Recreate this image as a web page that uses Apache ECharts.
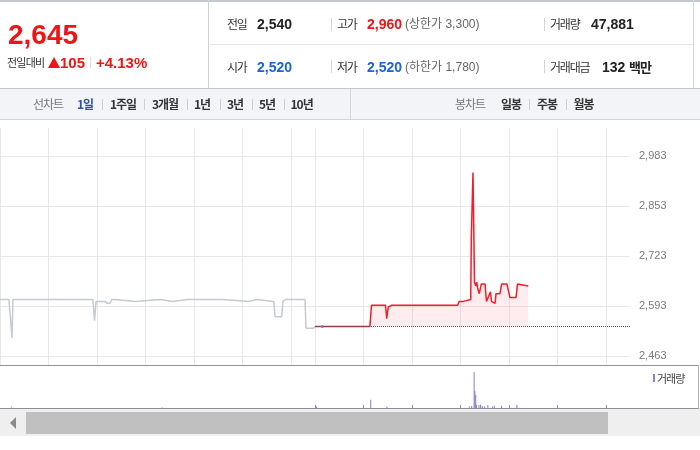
<!DOCTYPE html>
<html><head><meta charset="utf-8">
<script src="https://cdn.jsdelivr.net/npm/echarts@6/dist/echarts.min.js"></script>
<style>
html,body{margin:0;padding:0}
body{width:700px;height:450px;overflow:hidden;background:#fff;position:relative;font-family:"Liberation Sans","Noto Sans CJK KR",sans-serif}
#chart{position:absolute;left:0;top:0;width:700px;height:450px;z-index:2}
.a{position:absolute;white-space:nowrap;line-height:20px;z-index:3}
.box{position:absolute;z-index:1}
.lbl{font-family:"Noto Sans CJK KR",sans-serif;font-size:12px;letter-spacing:-1.2px;color:#333}
.val{font-size:14px;font-weight:bold;color:#222}
.sub{font-family:"Liberation Sans","Noto Sans CJK KR",sans-serif;font-size:12px;color:#666}
.sep{position:absolute;width:1px;background:#d6d6d6;z-index:3}
.tab{font-family:"Noto Sans CJK KR",sans-serif;font-size:12px;letter-spacing:-1px;color:#333;font-weight:bold}
.tabh{font-family:"Noto Sans CJK KR",sans-serif;font-size:12px;letter-spacing:-1px;color:#777}
</style>
</head><body>
<div id="header"></div>
<div id="chart"></div>
<script>
// ---------- data ----------
const currentPrice = 2645;
const prevClose = 2540;
const changeAmt = 105;
const changePct = 4.13;
const openPrice = 2520;
const highPrice = 2960;
const lowPrice = 2520;
const upperLimit = 3300;
const lowerLimit = 1780;
const totalVolume = 47881;
const tradeAmount = 132;

// minutes from previous day 09:00 (0) ; today 09:00 = 390 ; today 15:30 = 780
const prevDayMinutes = [0, 11, 12.4, 14.9, 16, 115, 117, 119, 130, 132.5, 136, 138.7, 142.4, 144, 168, 170, 198, 200, 214, 215.4, 231.5, 232.5, 233.5, 274.5, 276, 309.5, 311, 317.8, 319.4, 339, 340.5, 348.8, 350.4, 353, 377.6, 378.9, 388, 390];
const prevDayPrices  = [2610, 2610, 2605, 2510, 2610, 2610, 2555, 2605, 2605, 2600, 2600, 2610, 2610, 2605, 2605, 2610, 2610, 2605, 2605, 2610, 2610, 2605, 2610, 2610, 2605, 2605, 2610, 2610, 2605, 2605, 2565, 2565, 2605, 2610, 2610, 2535, 2535, 2540];

const todayMinutes = [390, 458, 460, 470.5, 471.7, 473.6, 477.3, 478.8, 480.7, 485, 566.7, 568.3, 573.6, 574.8, 582.8, 583.5, 584.4, 585.6, 587.5, 589, 590.2, 591.4, 593.4, 595.9, 600.5, 602.3, 604.6, 607.3, 608.5, 610.8, 612.9, 614.1, 619, 621.1, 627.7, 631.4, 638.9, 640.7, 642.6, 654];
const todayPrices  = [2540, 2540, 2595, 2595, 2590, 2595, 2595, 2560, 2590, 2595, 2595, 2605, 2605, 2610, 2610, 2770, 2770, 2940, 2655, 2645, 2655, 2640, 2625, 2650, 2650, 2605, 2610, 2630, 2605, 2610, 2600, 2625, 2625, 2650, 2650, 2615, 2615, 2650, 2645, 2645];

const openMarkMinute = [399];
const openMarkPrice = [2540];

const prevVolMinutes = [14, 201];
const prevVolValues  = [670, 330];
const volMinutes = [392, 459, 479, 581, 584, 587, 588, 589, 590, 593, 595, 597, 600, 604, 610, 612, 621, 640];
const volValues  = [530, 2760, 430, 500, 670, 12000, 5660, 4330, 1100, 1000, 1100, 670, 500, 1000, 500, 770, 770, 1100];

const yTicks = [2463, 2593, 2723, 2853, 2983];
const rangeTabs = ['1일', '1주일', '3개월', '1년', '3년', '5년', '10년'];
const candleTabs = ['일봉', '주봉', '월봉'];

// ---------- helpers ----------
const fmt = v => String(v).replace(/\B(?=(\d{3})+(?!\d))/g, ',');
const H = document.getElementById('header');
function el(cls, text, left, cy, style, lh) {
  const d = document.createElement('div');
  d.className = 'a ' + (cls || '');
  d.textContent = text;
  lh = lh || 20;
  d.style.left = left + 'px';
  d.style.top = (cy - lh / 2) + 'px';
  d.style.lineHeight = lh + 'px';
  if (style) Object.assign(d.style, style);
  H.appendChild(d);
  return d;
}
function box(left, top, w, h, style) {
  const d = document.createElement('div');
  d.className = 'box';
  Object.assign(d.style, {left: left + 'px', top: top + 'px', width: w + 'px', height: h + 'px'}, style || {});
  H.appendChild(d);
  return d;
}
function sep(left, top, h, color) {
  const d = document.createElement('div');
  d.className = 'sep';
  Object.assign(d.style, {left: left + 'px', top: top + 'px', height: h + 'px'});
  if (color) d.style.background = color;
  H.appendChild(d);
}

// ---------- header boxes ----------
box(0, 0, 700, 2, {background: '#c4c7cd'});
box(208, 0, 1, 88, {background: '#d0d2d6'});
box(210, 44, 483, 1, {background: '#e6e6e6'});
box(693, 0, 1, 88, {background: '#d8d8d8'});
// tab bar
box(0, 88, 700, 32, {background: '#f3f4f7', borderTop: '1px solid #c3c6cc', borderBottom: '1px solid #d3d5da', boxSizing: 'border-box'});
box(350, 89, 1, 30, {background: '#d5d7dc'});

// left price block
const red = '#f01414', blue = '#1a62dc';
el('', fmt(currentPrice), 8, 34.5, {fontSize: '28px', fontWeight: 'bold', color: red}, 32);
el('lbl', '전일대비', 7, 62.3, {fontSize: '11px', letterSpacing: '-0.8px'});
box(48, 57, 0, 0, {borderLeft: '6px solid transparent', borderRight: '6px solid transparent', borderBottom: '11px solid ' + red, width: '0px', height: '0px', zIndex: 3});
el('', fmt(changeAmt), 60, 62.5, {fontSize: '15px', fontWeight: 'bold', color: red});
sep(90, 57, 11, '#dcdcdc');
el('', '+' + changePct.toFixed(2) + '%', 96, 62.5, {fontSize: '15px', fontWeight: 'bold', color: red});

// right table
const r1 = 24.3, r2 = 66.7;
el('lbl', '전일', 227, r1);
el('val', fmt(prevClose), 257, r1);
sep(331, 18, 13);
el('lbl', '고가', 337, r1);
el('val', fmt(highPrice), 367, r1, {color: red});
el('sub', '(상한가 ' + fmt(upperLimit) + ')', 405, r1);
sep(544, 18, 13);
el('lbl', '거래량', 550, r1);
el('val', fmt(totalVolume), 591, r1);

el('lbl', '시가', 227, r2);
el('val', fmt(openPrice), 257, r2, {color: blue});
sep(331, 60, 13);
el('lbl', '저가', 337, r2);
el('val', fmt(lowPrice), 367, r2, {color: blue});
el('sub', '(하한가 ' + fmt(lowerLimit) + ')', 405, r2);
sep(544, 60, 13);
el('lbl', '거래대금', 550, r2);
el('val', fmt(tradeAmount), 602, r2);
el('val', '백만', 629, r2, {fontFamily: '"Noto Sans CJK KR",sans-serif', fontSize: '13px', letterSpacing: '-1px'});

// tabs
const tabY = 104;
el('tabh', '선차트', 33, tabY);
const rangeX = [77, 110, 152, 194, 227, 259, 290.5];
const rangeSepX = [102, 144, 186.5, 219.5, 251.5, 284];
rangeTabs.forEach((t, i) => el('tab', t, rangeX[i], tabY, i === 0 ? {color: '#2d50b4'} : null));
rangeSepX.forEach(x => sep(x, 99, 11, '#d0d0d0'));
el('tabh', '봉차트', 455, tabY);
const candleX = [501, 537, 573.5];
const candleSepX = [529, 565.5];
candleTabs.forEach((t, i) => el('tab', t, candleX[i], tabY));
candleSepX.forEach(x => sep(x, 99, 11, '#d0d0d0'));

// volume panel frame
box(0, 365, 699, 44, {borderTop: '1px solid #8d9097', borderBottom: '1px solid #8d9097', borderRight: '1px solid #b0b2b7', boxSizing: 'border-box'});
// volume legend
box(653, 374, 2, 8, {background: '#8f80c7', zIndex: 3});
el('', '거래량', 657, 378, {fontFamily: '"Noto Sans CJK KR",sans-serif', fontSize: '11px', letterSpacing: '-1px', color: '#444'});

// scrollbar
box(0, 409, 700, 27, {background: '#efefef'});
box(26, 412, 582, 22, {background: '#c0c0c0'});
box(10, 417, 0, 0, {borderTop: '6px solid transparent', borderBottom: '6px solid transparent', borderRight: '6px solid #8a8a8a', width: '0px', height: '0px'});

// ---------- chart ----------
const chart = echarts.init(document.getElementById('chart'), null, {renderer: 'canvas'});
const gridColor = '#e8e8e8';
const prevData = prevDayMinutes.map((m, i) => [m, prevDayPrices[i]]);
const todayData = todayMinutes.map((m, i) => [m, todayPrices[i]]);
const lastMinute = 780;
const lastTickMinute = 750;
const pxPerMin = 630 / lastMinute;

chart.setOption({
  animation: false,
  backgroundColor: 'transparent',
  grid: [
    {left: 0, top: 128, width: 315, height: 237},
    {left: 315, top: 128, width: 315, height: 237},
    {left: 0, top: 156, width: 630, height: 200},
    {left: 0, top: 365, width: 630, height: 43},
    {left: 315, top: 365, width: (lastTickMinute - 390) * pxPerMin, height: 43}
  ],
  xAxis: [
    {gridIndex: 0, type: 'value', min: 0, max: 390, interval: 60, axisLine: {show: false}, axisTick: {show: false}, axisLabel: {show: false}, splitLine: {show: true, lineStyle: {color: gridColor}}},
    {gridIndex: 1, type: 'value', min: 390, max: lastMinute, interval: 60, axisLine: {show: false}, axisTick: {show: false}, axisLabel: {show: false}, splitLine: {show: true, showMaxLine: false, lineStyle: {color: gridColor}}},
    {gridIndex: 2, type: 'value', min: 0, max: lastMinute, show: false},
    {gridIndex: 3, type: 'value', min: 0, max: lastMinute, show: false},
    {gridIndex: 4, type: 'value', min: 390, max: lastTickMinute, interval: 60, axisLine: {show: false}, axisTick: {show: true, inside: true, length: 3, lineStyle: {color: '#8d9097'}}, axisLabel: {show: false}, splitLine: {show: false}}
  ],
  yAxis: [
    {gridIndex: 0, type: 'value', show: false},
    {gridIndex: 1, type: 'value', show: false},
    {gridIndex: 2, type: 'value', position: 'right', min: yTicks[0], max: yTicks[yTicks.length - 1], interval: yTicks[1] - yTicks[0],
     axisLine: {show: false}, axisTick: {show: false},
     axisLabel: {margin: 9, color: '#7a7a7a', fontSize: 11, fontFamily: 'Liberation Sans', formatter: v => fmt(v)},
     splitLine: {show: true, lineStyle: {color: gridColor}}},
    {gridIndex: 3, type: 'value', min: 0, max: 14300, show: false},
    {gridIndex: 4, type: 'value', show: false}
  ],
  series: [
    {type: 'line', xAxisIndex: 2, yAxisIndex: 2, data: prevData, showSymbol: false, lineStyle: {color: '#c6cad0', width: 1.5}, z: 3},
    {type: 'line', xAxisIndex: 2, yAxisIndex: 2, data: todayData, showSymbol: false,
     lineStyle: {color: '#f21e2b', width: 1.5}, areaStyle: {origin: prevClose, color: 'rgba(240,40,60,0.12)'}, z: 4,
     markLine: {silent: true, symbol: 'none', label: {show: false},
       lineStyle: {type: 'dotted', color: '#555', width: 1},
       data: [[{coord: [todayMinutes[0], prevClose]}, {coord: [lastMinute, prevClose]}]]}},
    {type: 'scatter', xAxisIndex: 2, yAxisIndex: 2, data: openMarkMinute.map((m, i) => [m, openMarkPrice[i]]), symbolSize: 3, itemStyle: {color: '#4a86e0'}, z: 5},
    {type: 'bar', xAxisIndex: 3, yAxisIndex: 3, data: prevVolMinutes.map((m, i) => [m, prevVolValues[i]]), barWidth: 1, barGap: '-100%', itemStyle: {color: '#c8c8c8'}},
    {type: 'bar', xAxisIndex: 3, yAxisIndex: 3, data: volMinutes.map((m, i) => [m, volValues[i]]), barWidth: 1, barGap: '-100%', itemStyle: {color: '#8c7bc4'}}
  ]
});
</script>
</body></html>
